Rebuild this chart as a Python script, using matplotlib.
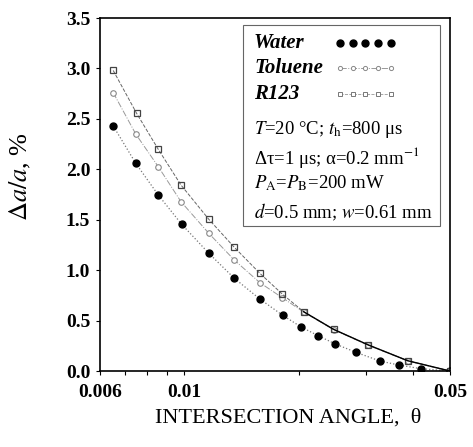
import matplotlib
matplotlib.use("Agg")
import matplotlib.pyplot as plt
from matplotlib.patches import Rectangle
from matplotlib.ticker import FixedLocator, NullFormatter, FixedFormatter

plt.rcParams['font.family'] = ['Liberation Serif', 'DejaVu Serif']
plt.rcParams['mathtext.fontset'] = 'stix'

# relative error vs intersection angle
theta_water = [0.0065, 0.00745, 0.00854, 0.00984, 0.0116, 0.01354, 0.0158, 0.01815,
               0.0203, 0.0225, 0.02496, 0.0283, 0.0327, 0.0366, 0.0419, 0.05]
err_water = [2.43, 2.06, 1.745, 1.455, 1.167, 0.919, 0.714, 0.552,
             0.436, 0.35, 0.268, 0.185, 0.099, 0.06, 0.023, 0.0]

theta_toluene = [0.0065, 0.00745, 0.00854, 0.0098, 0.0116, 0.01354, 0.0158, 0.0181,
                 0.0206, 0.0247, 0.0305, 0.0387, 0.05]
err_toluene = [2.76, 2.35, 2.026, 1.679, 1.365, 1.10, 0.876, 0.727,
               0.585, 0.41, 0.255, 0.10, 0.0]

theta_r123 = [0.0065, 0.00749, 0.00854, 0.0098, 0.0116, 0.01354, 0.0158, 0.0181,
              0.0206, 0.0247, 0.0305, 0.0387, 0.05]
err_r123 = [2.98, 2.555, 2.198, 1.844, 1.504, 1.226, 0.969, 0.763,
            0.588, 0.413, 0.258, 0.102, 0.0]

x_major = [0.006, 0.01, 0.05]
x_minor = [0.007, 0.008, 0.009, 0.02, 0.03, 0.04]
x_labels = ['0.006', '0.01', '0.05']
y_ticks = [0.0, 0.5, 1.0, 1.5, 2.0, 2.5, 3.0, 3.5]

fig = plt.figure(figsize=(4.73, 4.47), dpi=100)
ax = fig.add_axes([0.2114, 0.17, 0.74, 0.7897])

ax.plot(theta_water, err_water, color='#777777', ls=':', lw=0.9)
ax.plot(theta_water, err_water, 'o', color='black', ms=5, ls='none')

ax.plot(theta_toluene, err_toluene, color='#999999', ls='-.', lw=0.7)
ax.plot(theta_toluene, err_toluene, 'o', mfc='white', mec='#888888', mew=0.8,
        ms=4, ls='none')

ax.plot(theta_r123, err_r123, color='#666666', ls='--', lw=0.7)
ax.plot(theta_r123, err_r123, 's', mfc='none', mec='#444444', mew=0.9,
        ms=4.5, ls='none')

# curves merge at large angles
tail = [i for i, t in enumerate(theta_r123) if t >= 0.02]
ax.plot([theta_r123[i] for i in tail], [err_r123[i] for i in tail],
        color='black', lw=1.0)

ax.set_xscale('log')
ax.set_xlim(0.006, 0.05)
ax.set_ylim(0, 3.5)
ax.xaxis.set_major_locator(FixedLocator(x_major))
ax.xaxis.set_major_formatter(FixedFormatter(x_labels))
ax.xaxis.set_minor_locator(FixedLocator(x_minor))
ax.xaxis.set_minor_formatter(NullFormatter())
ax.set_yticks(y_ticks)
ax.set_yticklabels(['%.1f' % v for v in y_ticks])
ax.tick_params(which='both', direction='out', length=3, width=0.8,
               labelsize=14)
ax.tick_params(axis='x', pad=6)
ax.tick_params(axis='y', pad=4)
for lab in ax.get_xticklabels() + ax.get_yticklabels():
    lab.set_fontweight('bold')
for s in ax.spines.values():
    s.set_linewidth(1.2)

ax.set_xlabel('INTERSECTION ANGLE,  θ', fontsize=16)
ax.xaxis.set_label_coords(0.537, -0.105)
ax.set_ylabel(r'$\Delta a/a$, %', fontsize=19)
ax.yaxis.set_label_coords(-0.19, 0.552)

# legend box with the measurement conditions
ax.add_patch(Rectangle((0.409, 0.411), 0.562, 0.569, transform=ax.transAxes,
                       fill=False, ec='#666666', lw=0.8))
tx = 0.44
for label, yy in [('Water', 0.929), ('Toluene', 0.858), ('R123', 0.785)]:
    ax.text(tx, yy, label, transform=ax.transAxes, fontsize=15,
            style='italic', weight='bold', va='center')

sx = [0.686, 0.722, 0.758, 0.794, 0.830]
ax.plot(sx, [0.929] * 5, 'o', color='black', ms=5, transform=ax.transAxes)
ax.plot(sx, [0.858] * 5, color='#999999', ls='-.', lw=0.7,
        transform=ax.transAxes)
ax.plot(sx, [0.858] * 5, 'o', mfc='white', mec='#888888', mew=0.7, ms=3,
        ls='none', transform=ax.transAxes)
ax.plot(sx, [0.785] * 5, color='#999999', ls='--', lw=0.6,
        transform=ax.transAxes)
ax.plot(sx, [0.785] * 5, 's', mfc='white', mec='#777777', mew=0.7, ms=3.5,
        ls='none', transform=ax.transAxes)

conditions = [
    (r'$T$=20 °C; $t_{\rm h}$=800 μs', 0.683),
    (r'Δτ=1 μs; α=0.2 mm$^{-1}$', 0.606),
    (r'$P_{\rm A}$=$P_{\rm B}$=200 mW', 0.533),
    (r'$d$=0.5 mm; $w$=0.61 mm', 0.448),
]
for txt, yy in conditions:
    ax.text(tx, yy, txt, transform=ax.transAxes, fontsize=13.5, va='center')

fig.savefig('out.png', dpi=100)
